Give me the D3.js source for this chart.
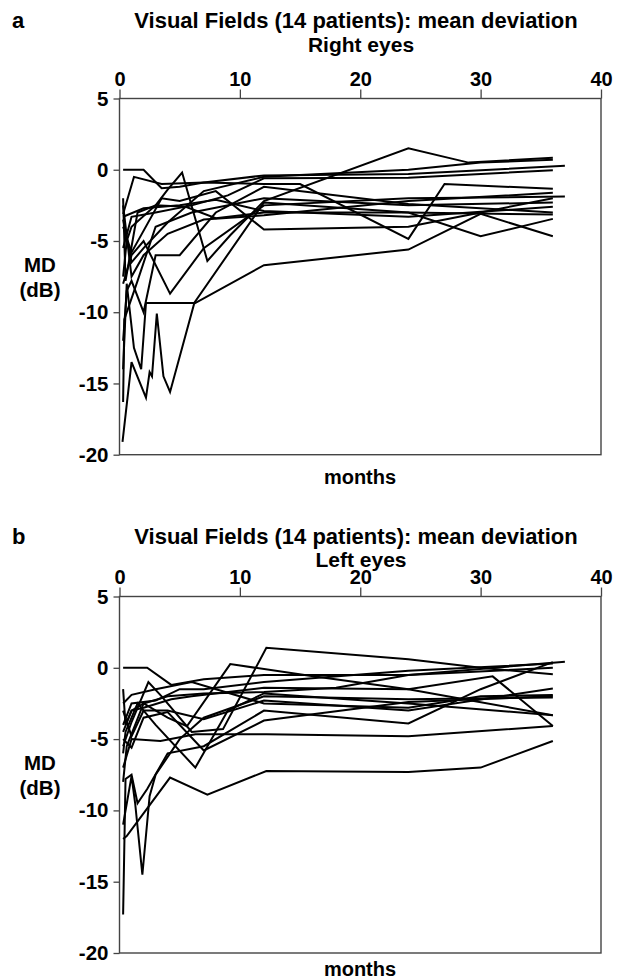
<!DOCTYPE html>
<html>
<head>
<meta charset="utf-8">
<script src="https://cdn.jsdelivr.net/npm/d3@7"></script>
<style>
body { margin: 0; background: #fff; }
svg text { font-family: "Liberation Sans", Arial, sans-serif; font-weight: bold; fill: #000; }
</style>
</head>
<body>
<svg id="chart" width="622" height="980"></svg>
<script>
// ticks
const monthTicks = [0, 10, 20, 30, 40];
const mdTicks = [5, 0, -5, -10, -15, -20];

// right eyes, one array of [month, MD dB] per patient
const rightEyes = [
	[[0.3, 0], [2, 0], [3.5, -1.3], [5, -1.2], [7, -0.9], [12, -0.4], [24, -0.3], [37, 0.28]],
	[[0.3, -3.1], [1.2, -0.5], [3.5, -1.0], [7, -0.9], [12, -1.0], [15, -1.0], [24, -4.85], [27, -1.0], [36, -1.34]],
	[[0.3, -2], [0.5, -7.8], [1.5, -3], [3, -2.5], [4, -1.4], [5.2, -0.2], [7.3, -6.4], [9.2, -4.6], [12, -2.2], [24, 1.5], [29, 0.5], [36, 0.84]],
	[[0.3, -5.5], [1, -3.3], [3, -3], [6, -2.5], [9, -1.8], [12, -0.6], [24, -0.56], [36, -0.03]],
	[[0.3, -3.3], [2, -2.7], [5, -2.5], [8, -2.1], [12, -2.9], [24, -3.3], [36, -2.6]],
	[[0.3, -7.5], [0.6, -5], [1, -4], [3, -2.5], [5.5, -2.6], [8, -3.4], [12, -3], [24, -3.0], [36, -3.15]],
	[[0.3, -8], [1, -6], [2, -5], [4.2, -8.7], [7, -5.5], [12, -2.5], [24, -2.0], [37, -1.88]],
	[[0.25, -19.1], [1, -13.5], [2.2, -16], [2.5, -14.2], [2.7, -14.5], [3.1, -10.1], [3.65, -14.5], [4.2, -15.6], [6.2, -9.4], [12, -6.7], [24, -5.6], [30, -3.1], [36, -4.67]],
	[[0.3, -16.3], [0.4, -10.5], [1.5, -7.8], [3, -4], [6, -3], [12, -2], [24, -2.5], [36, -2.3]],
	[[0.3, -14], [0.6, -8], [1.2, -12.5], [1.8, -14], [2.2, -9.35], [6.2, -9.35], [12, -2.3], [24, -3], [30, -4.67], [36, -3.45]],
	[[0.3, -3.5], [1, -6.5], [2, -5.5], [4, -3.7], [7, -1.5], [12, -0.5], [24, 0], [30, 0.5], [36, 0.7]],
	[[0.3, -4], [1, -5.8], [3.5, -2], [5, -2.2], [8, -1.5], [12, -4.2], [24, -4], [30, -3], [36, -2.0]],
	[[0.3, -2.5], [1, -7.5], [2, -6], [4, -4.5], [7, -3.5], [12, -3.2], [24, -2.2], [36, -1.62]],
	[[0.3, -12], [0.6, -8.5], [1, -7.8], [2, -10], [3, -6], [5, -6], [8, -3], [12, -1.2], [24, -2.4], [36, -3.0]]
];

// left eyes
const leftEyes = [
	[[0.3, 0], [2.3, 0], [4.3, -1.2], [7, -0.8], [12, -0.5], [24, -0.5], [37, 0.42]],
	[[0.3, -5.5], [1, -3.8], [2.4, -1], [3.5, -2], [6, -4.5], [8.6, -4.3], [12.2, 1.4], [24, 0.6], [30, 0], [36, -0.45]],
	[[0.3, -4.5], [1, -3], [2, -2.5], [4, -3.5], [5.6, -4.1], [9.2, 0.26], [15.8, -0.56], [24, -1.5], [36, -3.33]],
	[[0.3, -12], [0.6, -11.8], [4.2, -7.7], [7.3, -8.9], [12.2, -7.24], [24, -7.3], [30, -7.0], [36, -5.13]],
	[[0.3, -7], [1, -5], [3.4, -5.13], [6.3, -4.66], [12.2, -4.66], [24, -4.8], [36, -4.08]],
	[[0.3, -17.3], [0.5, -7.8], [1, -7.5], [1.5, -9.5], [2.3, -8.5], [4, -6], [7, -5.5], [12, -3], [24, -3.9], [30, -1.5], [36, 0.4]],
	[[0.3, -11], [1, -7.6], [1.3, -9.5], [1.9, -14.5], [2.5, -9], [3, -7.5], [5, -5], [7, -3.5], [12, -2], [24, -2.2], [36, -2.08]],
	[[0.3, -1.5], [0.5, -4], [1, -3], [2, -2.8], [4.3, -2.2], [6, -2], [12, -1.4], [24, -1.5], [31, -0.6], [36, -4.08]],
	[[0.3, -4], [1, -2.5], [3, -2.3], [5, -1.5], [7, -1.5], [12, -1], [24, -0.2], [36, 0.3]],
	[[0.3, -3], [1, -4.8], [2, -3], [4, -3], [7, -3.6], [12, -2.3], [24, -3], [36, -1.45]],
	[[0.3, -6], [0.5, -4.5], [1.5, -2.5], [3, -4], [6.3, -7.0], [9, -3], [12, -1.8], [24, -2.5], [36, -3.33]],
	[[0.3, -8], [0.6, -5.5], [2, -2.5], [4, -2], [7, -1.8], [12, -1.7], [18, -1.4], [24, -0.5], [36, 0]],
	[[0.3, -5], [1, -5.6], [2, -3.5], [4, -3.1], [7, -5.8], [12, -3.7], [24, -2.4], [36, -2.0]],
	[[0.3, -2.5], [1, -1.9], [3, -1.5], [6, -1], [12, -2.5], [24, -2.8], [30, -2.0], [36, -1.9]]
];

let svg = d3.select("#chart");

let plot_left = 119.5;
let plot_right = 601;

function draw_panel(letter, subtitle, data, top, bottom, title_y, sub_y, months_y) {
	let x = d3.scaleLinear().domain([0, 40]).range([plot_left, plot_right]);
	let y = d3.scaleLinear().domain([-20, 5]).range([bottom, top]);
	let mid = 356;

	svg.append("text")
		.attr("x", 12)
		.attr("y", title_y)
		.style("font-size", "22px")
		.text(letter);

	svg.append("text")
		.attr("x", mid)
		.attr("y", title_y)
		.attr("text-anchor", "middle")
		.style("font-size", "22px")
		.text("Visual Fields (14 patients): mean deviation");

	svg.append("text")
		.attr("x", 361)
		.attr("y", sub_y)
		.attr("text-anchor", "middle")
		.style("font-size", "21px")
		.text(subtitle);

	// frame
	svg.append("rect")
		.attr("x", plot_left)
		.attr("y", top)
		.attr("width", plot_right - plot_left)
		.attr("height", bottom - top)
		.attr("fill", "none")
		.attr("stroke", "#444")
		.attr("stroke-width", 1.4);

	svg.append("g")
		.attr("transform", "translate(0," + top + ")")
		.call(d3.axisTop(x).tickValues(monthTicks).tickSize(9).tickSizeOuter(0).tickPadding(4))
		.call(g => g.select(".domain").remove())
		.call(g => g.selectAll("line").attr("stroke", "#444").attr("stroke-width", 1.3))
		.call(g => g.selectAll("text").style("font-size", "20px"));

	svg.append("g")
		.attr("transform", "translate(" + plot_left + ",0)")
		.call(d3.axisLeft(y).tickValues(mdTicks).tickFormat(d => String(d)).tickSize(6).tickSizeOuter(0).tickPadding(5))
		.call(g => g.select(".domain").remove())
		.call(g => g.selectAll("line").attr("stroke", "#444").attr("stroke-width", 1.3))
		.call(g => g.selectAll("text").style("font-size", "20.5px"));

	let line = d3.line()
		.x(d => x(d[0]))
		.y(d => y(d[1]));

	svg.append("g")
		.selectAll("path")
		.data(data)
		.enter()
		.append("path")
		.attr("d", line)
		.attr("fill", "none")
		.attr("stroke", "#000")
		.attr("stroke-width", 2)
		.attr("stroke-linejoin", "miter");

	svg.append("text")
		.attr("x", 360)
		.attr("y", months_y)
		.attr("text-anchor", "middle")
		.style("font-size", "20px")
		.text("months");

	let ylab_y = y(-7.2);
	svg.append("text")
		.attr("x", 40)
		.attr("y", ylab_y)
		.attr("text-anchor", "middle")
		.style("font-size", "20.5px")
		.text("MD");
	svg.append("text")
		.attr("x", 40)
		.attr("y", ylab_y + 25)
		.attr("text-anchor", "middle")
		.style("font-size", "20.5px")
		.text("(dB)");
}

draw_panel("a", "Right eyes", rightEyes, 98.5, 454.7, 28, 52, 484);
draw_panel("b", "Left eyes", leftEyes, 596.5, 953, 544, 567, 976);
</script>
</body>
</html>
